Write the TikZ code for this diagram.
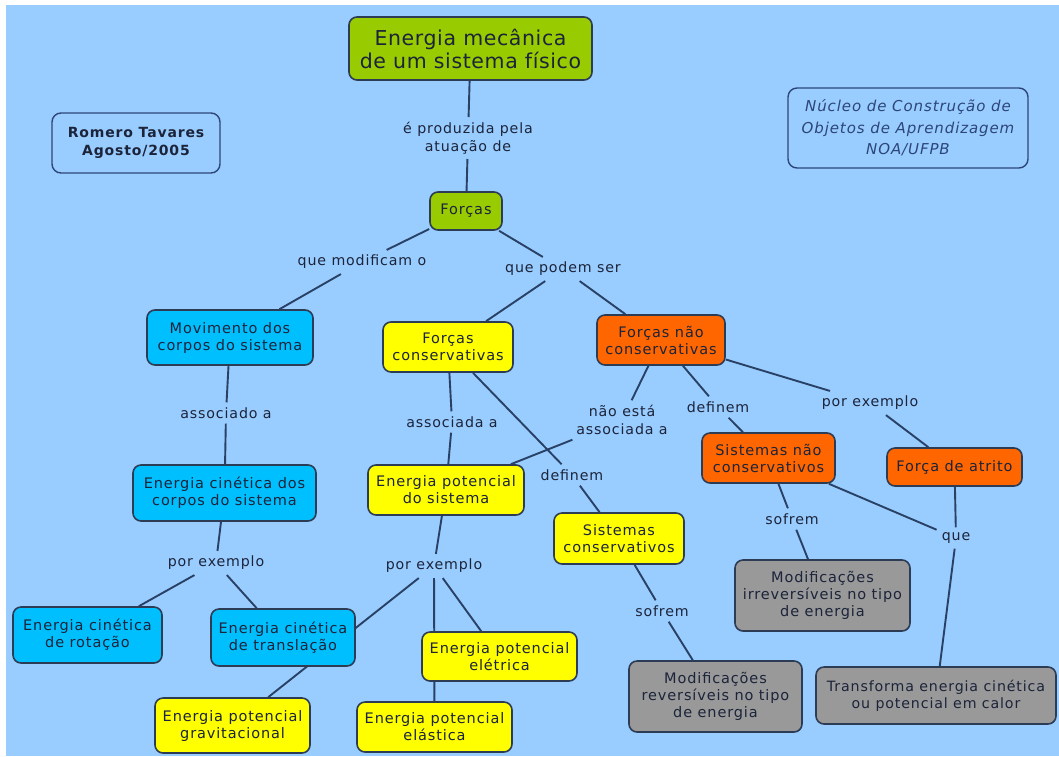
\documentclass[tikz,border=0pt]{standalone}
\usepackage{fontspec}
\setmainfont{DejaVu Sans}
\newfontfamily\nodefont[LetterSpace=6]{DejaVu Sans}
\newfontfamily\titlefont[LetterSpace=3]{DejaVu Sans}
\usetikzlibrary{backgrounds}
\definecolor{bgblue}{RGB}{153,204,255}
\definecolor{cgreen}{RGB}{153,204,0}
\definecolor{ccyan}{RGB}{0,191,255}
\definecolor{cyellow}{RGB}{255,255,0}
\definecolor{corange}{RGB}{255,102,0}
\definecolor{cgray}{RGB}{153,153,153}
\definecolor{cborder}{RGB}{45,60,85}
\definecolor{cline}{RGB}{40,65,100}
\definecolor{ctext}{RGB}{28,36,58}
\definecolor{cinfo}{RGB}{45,70,120}
\tikzset{
  concept/.style={draw=cborder, line width=1.6pt, rounded corners=8pt, align=center,
    text=ctext, inner sep=0pt, font=\nodefont\fontsize{14.5}{17}\selectfont},
  greenbox/.style={concept, fill=cgreen},
  cyanbox/.style={concept, fill=ccyan},
  yellowbox/.style={concept, fill=cyellow},
  orangebox/.style={concept, fill=corange},
  graybox/.style={concept, fill=cgray},
  infobox/.style={draw=cinfo, line width=1.4pt, rounded corners=9pt, align=center,
    text=ctext, inner sep=0pt},
  linklabel/.style={align=center, text=ctext, inner sep=5pt,
    font=\nodefont\fontsize{14.2}{17.5}\selectfont},
  link/.style={draw=cline, line width=1.9pt}
}
\begin{document}
\begin{tikzpicture}[x=1pt,y=-1pt]
\useasboundingbox (0,0) rectangle (1059,756);

% concepts
\node[greenbox, minimum width=243pt, minimum height=63pt,
  font=\titlefont\fontsize{20.5}{23}\selectfont] (em) at (470.5,48.5) {Energia mecânica\\de um sistema físico};
\node[greenbox, minimum width=72pt, minimum height=38pt] (forcas) at (466,211) {Forças};
\node[infobox, minimum width=168pt, minimum height=60pt,
  font=\nodefont\bfseries\fontsize{14}{18}\selectfont] (romero) at (136,143) {Romero Tavares\\Agosto/2005};
\node[infobox, minimum width=240pt, minimum height=80pt,
  font=\nodefont\itshape\fontsize{15}{21.5}\selectfont, text=cinfo] (noa) at (908,128) {Núcleo de Construção de\\Objetos de Aprendizagem\\NOA/UFPB};
\node[cyanbox, minimum width=166pt, minimum height=55pt] (mov) at (230,337.5) {Movimento dos\\corpos do sistema};
\node[yellowbox, minimum width=130pt, minimum height=50pt] (fc) at (448,347) {Forças\\conservativas};
\node[orangebox, minimum width=128pt, minimum height=50pt] (fnc) at (661,340) {Forças não\\conservativas};
\node[orangebox, minimum width=133pt, minimum height=50pt] (snc) at (768.5,458) {Sistemas não\\conservativos};
\node[orangebox, minimum width=135pt, minimum height=38pt] (fa) at (954.5,467) {Força de atrito};
\node[cyanbox, minimum width=183pt, minimum height=56pt] (ecc) at (224.5,493) {Energia cinética dos\\corpos do sistema};
\node[yellowbox, minimum width=156pt, minimum height=50pt] (eps) at (446,490) {Energia potencial\\do sistema};
\node[yellowbox, minimum width=130pt, minimum height=51pt] (sc) at (619,538.5) {Sistemas\\conservativos};
\node[graybox, minimum width=175pt, minimum height=71pt] (mi) at (822.5,595.5) {Modificações\\irreversíveis no tipo\\de energia};
\node[cyanbox, minimum width=149pt, minimum height=56pt] (ecr) at (87.5,635) {Energia cinética\\de rotação};
\node[cyanbox, minimum width=144pt, minimum height=57pt] (ect) at (283,637.5) {Energia cinética\\de translação};
\node[yellowbox, minimum width=155pt, minimum height=49pt] (epel) at (499.5,656.5) {Energia potencial\\elétrica};
\node[graybox, minimum width=173pt, minimum height=71pt] (mr) at (715.5,696.5) {Modificações\\reversíveis no tipo\\de energia};
\node[graybox, minimum width=240pt, minimum height=57pt,
  font=\nodefont\fontsize{14.2}{17}\selectfont] (tr) at (936,695.5) {Transforma energia cinética\\ou potencial em calor};
\node[yellowbox, minimum width=155pt, minimum height=55pt] (epg) at (232.5,725.5) {Energia potencial\\gravitacional};
\node[yellowbox, minimum width=155pt, minimum height=50pt] (epe) at (434.5,727) {Energia potencial\\elástica};

% linking phrases
\node[linklabel] (l1) at (468,138) {é produzida pela\\atuação de};
\node[linklabel] (l2) at (362,262) {que modificam o};
\node[linklabel] (l3) at (563,269) {que podem ser};
\node[linklabel] (l4) at (226,413) {associado a};
\node[linklabel] (l5) at (452,422) {associada a};
\node[linklabel] (l6) at (622,420) {não está\\associada a};
\node[linklabel] (l7) at (572,475) {definem};
\node[linklabel] (l8) at (718,407) {definem};
\node[linklabel] (l9) at (870,403) {por exemplo};
\node[linklabel] (l10) at (792,519) {sofrem};
\node[linklabel] (l11) at (956,538) {que};
\node[linklabel] (l12) at (662,611) {sofrem};
\node[linklabel] (l13) at (216,563) {por exemplo};
\node[linklabel] (l14) at (434,566) {por exemplo};

\begin{scope}[on background layer]
\fill[white] (0,0) rectangle (1059,756);
\fill[bgblue] (6,5) rectangle (1059,756);
\draw[link] (em) -- (l1);
\draw[link] (l1) -- (forcas);
\draw[link] (forcas) -- (l2);
\draw[link] (l2) -- (mov);
\draw[link] (forcas) -- (l3);
\draw[link] (l3) -- (fc);
\draw[link] (l3) -- (fnc);
\draw[link] (mov) -- (l4);
\draw[link] (l4) -- (ecc);
\draw[link] (fc) -- (l5);
\draw[link] (l5) -- (eps);
\draw[link] (fc) -- (l7);
\draw[link] (l7) -- (sc);
\draw[link] (fnc) -- (l6);
\draw[link] (l6) -- (eps);
\draw[link] (fnc) -- (l8);
\draw[link] (l8) -- (snc);
\draw[link] (fnc) -- (l9);
\draw[link] (l9) -- (fa);
\draw[link] (snc) -- (l10);
\draw[link] (l10) -- (mi);
\draw[link] (snc) -- (l11);
\draw[link] (fa) -- (l11);
\draw[link] (l11) -- (tr);
\draw[link] (sc) -- (l12);
\draw[link] (l12) -- (mr);
\draw[link] (ecc) -- (l13);
\draw[link] (l13) -- (ecr);
\draw[link] (l13) -- (ect);
\draw[link] (eps) -- (l14);
\draw[link] (l14) -- (epg);
\draw[link] (l14) -- (epe);
\draw[link] (l14) -- (epel);
\end{scope}
\end{tikzpicture}
\end{document}
